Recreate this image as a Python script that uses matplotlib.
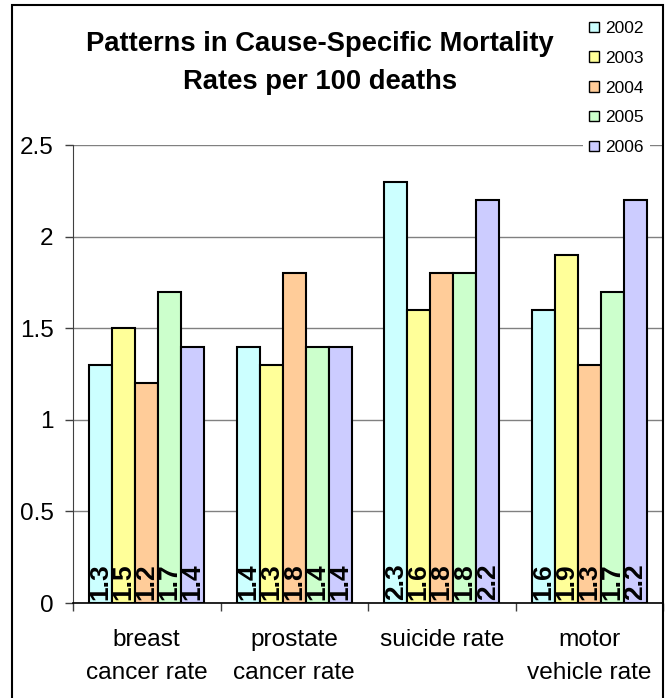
import matplotlib
matplotlib.use("Agg")
import matplotlib.pyplot as plt
from matplotlib.patches import Patch, Rectangle
import numpy as np

categories = ["breast\ncancer rate", "prostate\ncancer rate", "suicide rate", "motor\nvehicle rate"]
years = ["2002", "2003", "2004", "2005", "2006"]
s2002 = [1.3, 1.4, 2.3, 1.6]
s2003 = [1.5, 1.3, 1.6, 1.9]
s2004 = [1.2, 1.8, 1.8, 1.3]
s2005 = [1.7, 1.4, 1.8, 1.7]
s2006 = [1.4, 1.4, 2.2, 2.2]
series = [s2002, s2003, s2004, s2005, s2006]
colors = ["#CCFFFF", "#FFFF99", "#FFCC99", "#CCFFCC", "#CCCCFF"]
yticks = [0, 0.5, 1, 1.5, 2, 2.5]
ytick_labels = ["0", "0.5", "1", "1.5", "2", "2.5"]

plt.rcParams['font.family'] = ['Liberation Sans', 'DejaVu Sans']

W, H = 667, 698
fig = plt.figure(figsize=(W / 100, H / 100), dpi=100)
ax = fig.add_axes([73 / W, 1 - 603 / H, (663 - 73) / W, (603 - 145) / H])

x = np.arange(len(categories))
bw = 0.156
for j, (vals, col, yr) in enumerate(zip(series, colors, years)):
    pos = x + (j - 2) * bw
    ax.bar(pos, vals, width=bw, color=col, edgecolor="black", linewidth=1.5, label=yr, zorder=3)
    for p, v in zip(pos, vals):
        ax.annotate(f"{v:.1f}", xy=(p, 0), xytext=(0, 2), textcoords="offset points",
                    rotation=90, ha="center", va="bottom", fontsize=19, fontweight="bold",
                    zorder=4)

ax.set_xlim(-0.5, len(categories) - 0.5)
ax.set_ylim(0, 2.5)
ax.set_yticks(yticks)
ax.set_yticklabels(ytick_labels, fontsize=17.5)
ax.tick_params(axis="y", direction="out", length=6, width=1, pad=8, color="#404040")
ax.yaxis.grid(True, color="#808080", linewidth=1, zorder=0)
ax.set_axisbelow(True)

ax.set_xticks(np.arange(len(categories) + 1) - 0.5)
ax.set_xticklabels([])
ax.tick_params(axis="x", which="major", direction="out", length=6, width=1, color="#404040")
ax.set_xticks(x, minor=True)
ax.set_xticklabels(categories, minor=True, fontsize=17.6, linespacing=1.6)
ax.tick_params(axis="x", which="minor", length=0, pad=19)

for s in ["top", "right"]:
    ax.spines[s].set_visible(False)
ax.spines["left"].set_color("#404040")
ax.spines["bottom"].set_color("black")
ax.spines["bottom"].set_linewidth(1.2)

fig.text(320 / W, 1 - 63 / H, "Patterns in Cause-Specific Mortality\nRates per 100 deaths",
         ha="center", va="center", fontsize=19.7, fontweight="bold", linespacing=1.6)

handles = [Patch(facecolor=c, edgecolor="black", linewidth=1, label=y) for c, y in zip(colors, years)]
leg = fig.legend(handles=handles, loc="upper left", bbox_to_anchor=(583 / W, 1 - 15 / H),
                 fontsize=12.5, frameon=True, fancybox=False, framealpha=1, edgecolor="none",
                 facecolor="white", handlelength=0.55, handleheight=0.55, handletextpad=0.4,
                 labelspacing=0.85, borderpad=0.35, borderaxespad=0)

fig.patches.append(Rectangle((12 / W, -0.1), (663 - 12) / W, 1.1 - 5 / H, transform=fig.transFigure,
                             fill=False, edgecolor="black", linewidth=1.5))

fig.savefig("out.png", dpi=100)
